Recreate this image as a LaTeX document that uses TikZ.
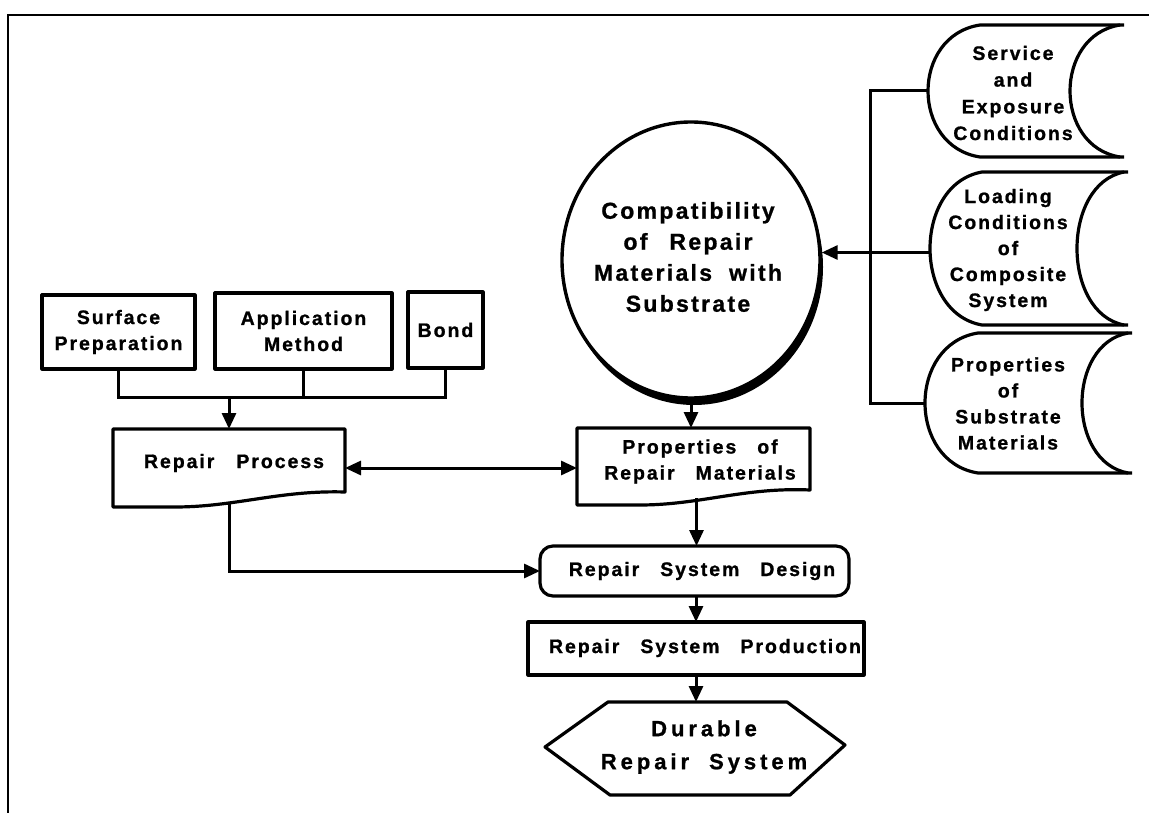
\documentclass[tikz,border=0pt]{standalone}
\usepackage{fontspec}
\usetikzlibrary{arrows.meta,shapes.geometric}
\newfontfamily\lblfam{Liberation Sans}[UprightFont={* Bold}, LetterSpace=10, FakeBold=1]
\newfontfamily\widefam{Liberation Sans}[UprightFont={* Bold}, LetterSpace=18, FakeBold=1]
\newcommand\wgap{\hspace{21pt}}
\newcommand\sdata[6]{%
  \pgfmathsetmacro\sdLc{#3-(#3-#4)/0.75}%
  \pgfmathsetmacro\sdRc{#5-(#5-#6)/0.75}%
  \pgfmathsetmacro\sdTa{#1+0.08*(#2-#1)}%
  \pgfmathsetmacro\sdBa{#2-0.08*(#2-#1)}%
  \draw[outline] (#5+4,#1) -- (#3,#1) .. controls (\sdLc,\sdTa) and (\sdLc,\sdBa) .. (#3,#2) -- (#5+4,#2);
  \draw[outline] (#5,#1) .. controls (\sdRc,\sdTa) and (\sdRc,\sdBa) .. (#5,#2);
}
\begin{document}
\begin{tikzpicture}[x=1pt,y=-1pt,
  lbl/.style={font=\lblfam\fontsize{19.5}{26}\selectfont, align=center, inner sep=0pt},
  big/.style={font=\lblfam\fontsize{23}{31}\selectfont, align=center, inner sep=0pt},
  hexf/.style={font=\widefam\fontsize{22}{33}\selectfont, align=center, inner sep=0pt},
  outline/.style={draw, line width=3.2pt, line join=round},
  area/.style={inner sep=0pt, outer sep=0pt},
  conn/.style={line width=3pt},
  arr/.style={conn, -{Triangle[length=16pt,width=14pt]}},
  darr/.style={conn, {Triangle[length=16pt,width=14pt]}-{Triangle[length=16pt,width=14pt]}},
]
\useasboundingbox (0,0) rectangle (1149,813);
\fill[white] (0,0) rectangle (1149,813);

% frame
\draw[line width=2.6pt] (8,813) -- (8,15) -- (1149,15);

% top-left boxes
\node[outline, area, lbl, minimum width=153pt, minimum height=74pt] (surf) at (118.5,332) {Surface\\Preparation};
\node[outline, area, lbl, minimum width=177pt, minimum height=76pt] (app) at (303.5,331) {Application\\Method};
\node[outline, area, lbl, minimum width=75pt, minimum height=76pt] (bond) at (445.5,330) {Bond};

% repair process (document shape)
\node[area, minimum width=232pt, minimum height=78pt] (rp) at (229,468) {};
\draw[outline] (113,429) -- (345,429) -- (345,492) .. controls (280,490) and (235,507) .. (175,507) -- (113,507) -- cycle;
\node[lbl] (rpt) at (234,463) {Repair\hspace{22pt}Process};

% properties of repair materials (document shape)
\node[area, minimum width=233pt, minimum height=77pt] (pm) at (693.5,466.5) {};
\draw[outline] (577,428) -- (810,428) -- (810,490) .. controls (745,487) and (700,505) .. (640,505) -- (577,505) -- cycle;
\node[lbl] (pmt) at (700,461.5) {Properties\wgap of\\Repair\wgap Materials};

% compatibility circle with shadow
\node[ellipse, fill=black, area, minimum width=258pt, minimum height=276pt] (circsh) at (694,267) {};
\node[ellipse, draw, fill=white, line width=3.4pt, minimum width=258pt, minimum height=276pt] (circ) at (691,260) {};
\node[big] (circt) at (688,257) {Compatibility\\of\hspace{22pt}Repair\\Materials\hspace{17pt}with\\Substrate};

% repair system design
\node[outline, area, rounded corners=13pt, minimum width=309pt, minimum height=50pt] (des) at (694.5,571) {};
\node[lbl] (dest) at (702,571) {Repair\wgap System\wgap Design};

% repair system production
\node[outline, area, minimum width=336pt, minimum height=53pt] (prod) at (696,648.5) {};
\node[lbl] (prodt) at (705,648) {Repair\wgap System\wgap Production};

% durable repair system (hexagon)
\node[area, minimum width=300pt, minimum height=93pt] (dur) at (695,748.5) {};
\draw[outline] (545,747) -- (608,702) -- (787,702) -- (845,745) -- (790,795) -- (610,795) -- cycle;
\node[hexf] (durt) at (704,747) {Durable\\Repair\hspace{20pt}System};

% right stored-data shapes
\node[area, minimum width=196pt, minimum height=132pt] (svc) at (1026,91) {};
\sdata{25}{157}{980}{928}{1120}{1070}
\node[lbl, font=\lblfam\fontsize{19.5}{26.7}\selectfont] (svct) at (1013,93) {Service\\and\\Exposure\\Conditions};

\node[area, minimum width=198pt, minimum height=153pt] (load) at (1029,248.5) {};
\sdata{172}{325}{982}{930}{1124}{1077}
\node[lbl] (loadt) at (1008,250) {Loading\\Conditions\\of\\Composite\\System};

\node[area, minimum width=203pt, minimum height=140pt] (sub) at (1026.5,403) {};
\sdata{333}{473}{978}{925}{1128}{1082}
\node[lbl] (subt) at (1008,403.5) {Properties\\of\\Substrate\\Materials};

% connectors
\coordinate (bus) at (0,397);
\draw[conn] (surf.south) -- (surf.south |- bus) -- (bond.south |- bus) -- (bond.south);
\draw[conn] (app.south) -- (app.south |- bus);
\draw[arr] (rp.north |- bus) -- (rp.north);
\draw[darr] (rp.east) -- (rp.east -| pm.west);
\draw[arr] (circ.south) -- (circ.south |- pm.north);
\draw[arr] ([xshift=3pt,yshift=7pt]pm.south) -- ([xshift=3pt]pm.south |- des.north);
\draw[arr] (des.south -| prod.north) -- (prod.north);
\draw[arr] (prod.south) -- (prod.south |- dur.north);
\draw[arr] ([yshift=5pt]rp.south) |- (des.west);
\coordinate (rbus) at (870,0);
\draw[conn] (svc.west) -- (svc.west -| rbus) -- (sub.west -| rbus) -- (sub.west);
\draw[arr] ([yshift=-4pt]load.west) -- ([yshift=-4pt]load.west -| circ.east);
\end{tikzpicture}
\end{document}
